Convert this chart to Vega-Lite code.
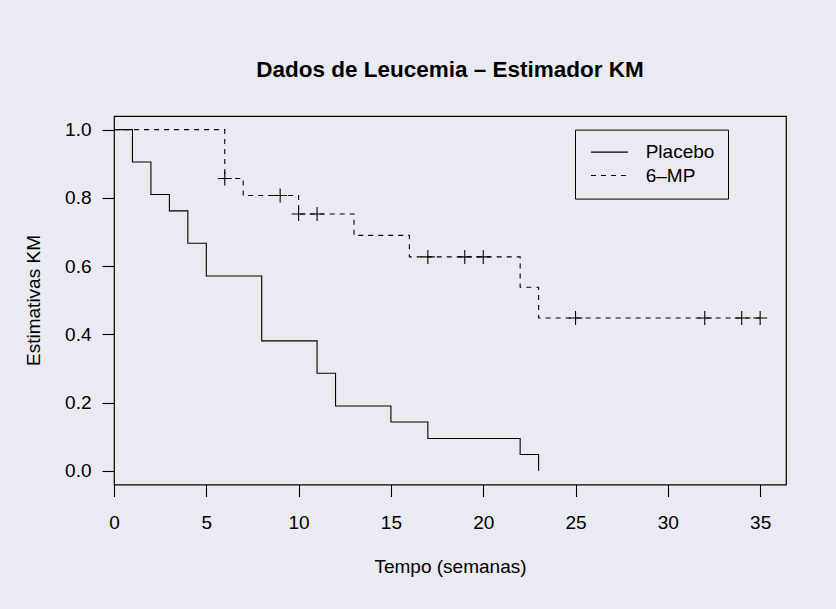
{
  "$schema": "https://vega.github.io/schema/vega-lite/v6.json",
  "width": 672,
  "height": 368.5,
  "autosize": {"type": "none"},
  "padding": {"left": 114, "top": 116, "right": 50, "bottom": 124.5},
  "background": "#EAEAF2",
  "title": {
    "text": "Dados de Leucemia – Estimador KM",
    "font": "Liberation Sans",
    "fontSize": 22.5,
    "fontWeight": "bold",
    "color": "black",
    "anchor": "middle",
    "frame": "group",
    "baseline": "alphabetic",
    "offset": 17
  },
  "datasets": {
    "curvas": [
      {"grupo": "Placebo", "tempo": 0, "km": 1.0},
      {"grupo": "Placebo", "tempo": 1, "km": 0.905},
      {"grupo": "Placebo", "tempo": 2, "km": 0.810},
      {"grupo": "Placebo", "tempo": 3, "km": 0.762},
      {"grupo": "Placebo", "tempo": 4, "km": 0.667},
      {"grupo": "Placebo", "tempo": 5, "km": 0.571},
      {"grupo": "Placebo", "tempo": 8, "km": 0.381},
      {"grupo": "Placebo", "tempo": 11, "km": 0.286},
      {"grupo": "Placebo", "tempo": 12, "km": 0.190},
      {"grupo": "Placebo", "tempo": 15, "km": 0.143},
      {"grupo": "Placebo", "tempo": 17, "km": 0.095},
      {"grupo": "Placebo", "tempo": 22, "km": 0.048},
      {"grupo": "Placebo", "tempo": 23, "km": 0.0},
      {"grupo": "6–MP", "tempo": 0, "km": 1.0},
      {"grupo": "6–MP", "tempo": 6, "km": 0.857},
      {"grupo": "6–MP", "tempo": 7, "km": 0.807},
      {"grupo": "6–MP", "tempo": 10, "km": 0.753},
      {"grupo": "6–MP", "tempo": 13, "km": 0.690},
      {"grupo": "6–MP", "tempo": 16, "km": 0.627},
      {"grupo": "6–MP", "tempo": 22, "km": 0.538},
      {"grupo": "6–MP", "tempo": 23, "km": 0.448},
      {"grupo": "6–MP", "tempo": 35, "km": 0.448}
    ],
    "censuras": [
      {"grupo": "6–MP", "tempo": 6, "km": 0.857},
      {"grupo": "6–MP", "tempo": 9, "km": 0.807},
      {"grupo": "6–MP", "tempo": 10, "km": 0.753},
      {"grupo": "6–MP", "tempo": 11, "km": 0.753},
      {"grupo": "6–MP", "tempo": 17, "km": 0.627},
      {"grupo": "6–MP", "tempo": 19, "km": 0.627},
      {"grupo": "6–MP", "tempo": 20, "km": 0.627},
      {"grupo": "6–MP", "tempo": 25, "km": 0.448},
      {"grupo": "6–MP", "tempo": 32, "km": 0.448},
      {"grupo": "6–MP", "tempo": 34, "km": 0.448},
      {"grupo": "6–MP", "tempo": 35, "km": 0.448}
    ]
  },
  "config": {
    "view": {"stroke": "black", "strokeWidth": 1.2, "fill": null},
    "axis": {
      "domain": false,
      "grid": false,
      "tickColor": "black",
      "tickWidth": 1.1,
      "tickSize": 12,
      "labelColor": "black",
      "labelFont": "Liberation Sans",
      "labelFontSize": 19,
      "labelFlush": false,
      "titleColor": "black",
      "titleFont": "Liberation Sans",
      "titleFontSize": 19,
      "titleFontWeight": "normal"
    }
  },
  "layer": [
    {
      "data": {"name": "curvas"},
      "mark": {"type": "line", "interpolate": "step-after", "color": "black", "strokeWidth": 1.1},
      "encoding": {
        "x": {
          "field": "tempo",
          "type": "quantitative",
          "scale": {"domain": [0, 36.4], "nice": false, "zero": false},
          "axis": {
            "values": [0, 5, 10, 15, 20, 25, 30, 35],
            "labelPadding": 17,
            "labelBaseline": "top",
            "title": "Tempo (semanas)",
            "titleBaseline": "alphabetic",
            "titleY": 88.4
          }
        },
        "y": {
          "field": "km",
          "type": "quantitative",
          "scale": {"domain": [-0.04, 1.04], "nice": false, "zero": false},
          "axis": {
            "values": [0, 0.2, 0.4, 0.6, 0.8, 1.0],
            "format": ".1f",
            "labelPadding": 11,
            "title": "Estimativas KM",
            "titleAngle": -90,
            "titleBaseline": "alphabetic",
            "titleX": -74.5,
            "titleY": 184
          }
        },
        "strokeDash": {
          "field": "grupo",
          "type": "nominal",
          "scale": {"domain": ["Placebo", "6–MP"], "range": [[1, 0], [5, 5]]},
          "legend": {
            "orient": "none",
            "legendX": 461,
            "legendY": 13.6,
            "title": null,
            "strokeColor": "black",
            "padding": 13,
            "symbolType": "M-3,0H3",
            "symbolSize": 152,
            "symbolStrokeWidth": 1.1,
            "symbolStrokeColor": "black",
            "symbolOffset": 12,
            "labelOffset": 26.7,
            "rowPadding": 3.4,
            "labelFont": "Liberation Sans",
            "labelFontSize": 19,
            "labelColor": "black"
          }
        }
      }
    },
    {
      "data": {"name": "censuras"},
      "mark": {
        "type": "point",
        "shape": "M-1,0H1M0,-1V1",
        "size": 196,
        "filled": false,
        "stroke": "black",
        "strokeWidth": 1.1,
        "opacity": 1
      },
      "encoding": {
        "x": {"field": "tempo", "type": "quantitative"},
        "y": {"field": "km", "type": "quantitative"}
      }
    }
  ]
}
